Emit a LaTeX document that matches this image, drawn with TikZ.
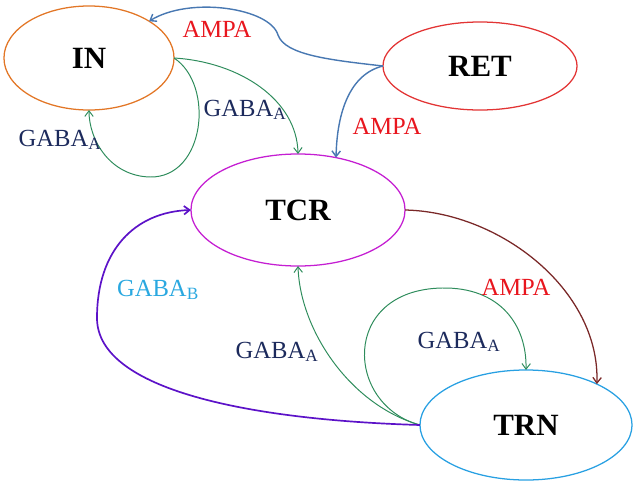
\documentclass[tikz,border=0pt]{standalone}
\usepackage{fontspec}
\setmainfont{Liberation Serif}
\usetikzlibrary{shapes.geometric,arrows.meta}

\definecolor{inorange}{RGB}{226,118,38}
\definecolor{retred}{RGB}{226,52,52}
\definecolor{tcrmagenta}{RGB}{196,30,210}
\definecolor{trnblue}{RGB}{40,160,226}
\definecolor{ampablue}{RGB}{72,120,178}
\definecolor{gabagreen}{RGB}{46,140,92}
\definecolor{tcrbrown}{RGB}{122,40,40}
\definecolor{gababpurple}{RGB}{92,18,200}
\definecolor{lblred}{RGB}{232,22,30}
\definecolor{lblnavy}{RGB}{28,42,92}
\definecolor{lblcyan}{RGB}{42,168,224}

\newcommand{\gabalbl}[1]{GABA\textsubscript{#1}}

\begin{document}
\begin{tikzpicture}[x=0.025cm, y=-0.025cm, >={Straight Barb[length=4pt,width=6pt]}]
    % Estilos
    \tikzstyle{cell} = [draw, ellipse, inner sep=0pt, outer sep=0pt, line width=0.9pt, font=\fontsize{22}{24}\selectfont\bfseries]
    \tikzstyle{lbl} = [font=\fontsize{17.5}{20}\selectfont]
    \tikzstyle{ampa} = [lbl, text=lblred]
    \tikzstyle{gabaa} = [lbl, text=lblnavy]
    \tikzstyle{gabab} = [lbl, text=lblcyan]
    \tikzstyle{syn} = [->, line width=0.7pt]

    \useasboundingbox (0,0) rectangle (638,487);

    % --- Poblaciones ---
    \node [cell, draw=inorange, minimum width=4.25cm, minimum height=2.6cm] (IN) at (89,58) {IN};
    \node [cell, draw=retred, minimum width=4.85cm, minimum height=2.2cm] (RET) at (480,66) {RET};
    \node [cell, draw=tcrmagenta, minimum width=5.35cm, minimum height=2.8cm] (TCR) at (298,210) {TCR};
    \node [cell, draw=trnblue, minimum width=5.3cm, minimum height=2.75cm] (TRN) at (526,425) {TRN};

    % --- Sinapsis ---
    % RET hacia IN y TCR (AMPA)
    \draw [syn, ampablue, line width=1pt] (RET.west) .. controls (330,60) and (285,55) .. (278,35)
        .. controls (270,8) and (190,-4) .. (IN.north east);
    \draw [syn, ampablue, line width=1pt] (RET.west) .. controls (350,74) and (337,112) .. (TCR.54);

    % IN hacia TCR y hacia si misma (GABA_A)
    \draw [syn, gabagreen] (IN.east) .. controls (240,62) and (297,100) .. (TCR.north);
    \draw [syn, gabagreen] (IN.east) .. controls (215,85) and (205,178) .. (150,177)
        .. controls (110,176) and (89,140) .. (IN.south);

    % TCR hacia TRN (AMPA)
    \draw [syn, tcrbrown, line width=0.9pt] (TCR.east) .. controls (500,212) and (600,290) .. (TRN.30);

    % TRN hacia TCR y hacia si misma
    \draw [syn, gabagreen] (TRN.west) .. controls (350,405) and (300,330) .. (TCR.south);
    \draw [syn, gabagreen] (TRN.west) .. controls (345,405) and (340,290) .. (442,288)
        .. controls (500,287) and (527,325) .. (TRN.north);
    \draw [syn, gababpurple, line width=1.2pt] (TRN.west) .. controls (250,420) and (97,390) .. (97,318)
        .. controls (97,250) and (135,212) .. (TCR.west);

    % --- Etiquetas ---
    \node [ampa] (ampaIN) at (217,29) {AMPA};
    \node [ampa] (ampaTCR) at (387,126) {AMPA};
    \node [ampa] (ampaTRN) at (516,287) {AMPA};
    \node [gabaa] (gabaINself) at (60,140) {\gabalbl{A}};
    \node [gabaa] (gabaINTCR) at (245,110) {\gabalbl{A}};
    \node [gabaa] (gabaTRNTCR) at (277,352) {\gabalbl{A}};
    \node [gabaa] (gabaTRNself) at (459,342) {\gabalbl{A}};
    \node [gabab] (gabaB) at (158,290) {\gabalbl{B}};

\end{tikzpicture}
\end{document}
